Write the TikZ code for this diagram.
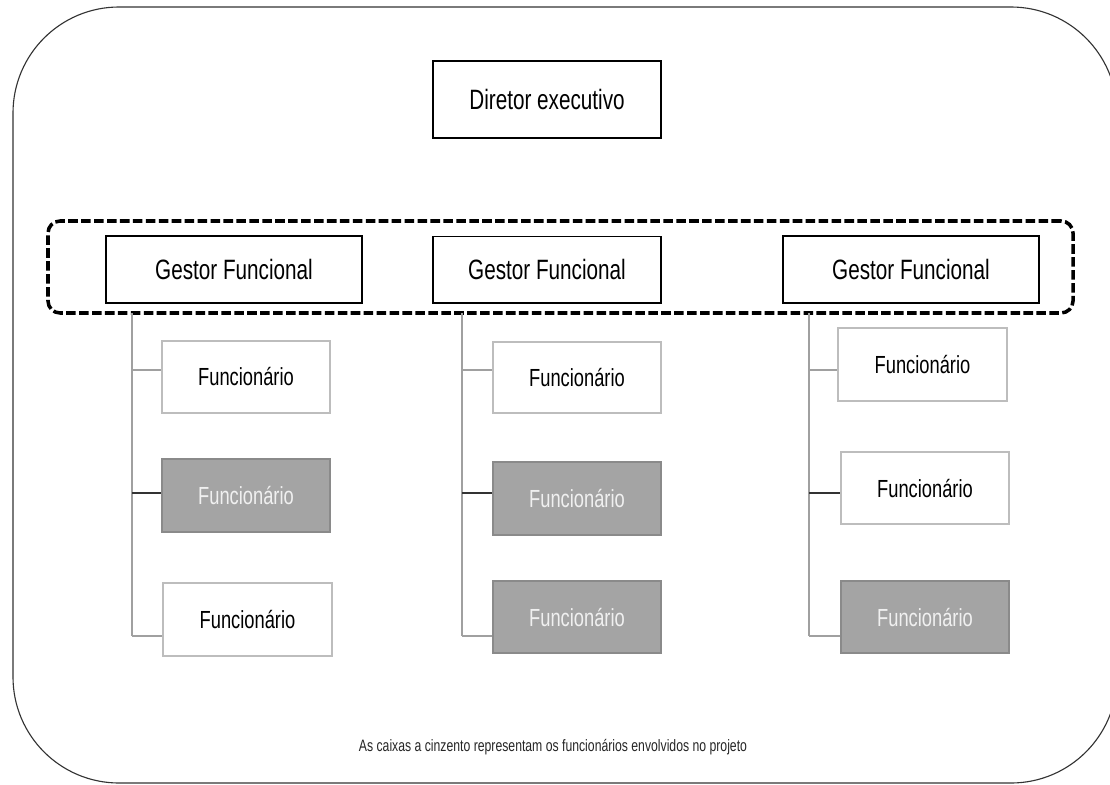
\documentclass[tikz,border=0pt]{standalone}
\usepackage{fontspec}
\usepackage{tikz}
\newfontfamily\narrowsans[FakeStretch=0.74]{Liberation Sans}

\definecolor{boxgrey}{HTML}{A4A4A4}
\definecolor{boxedge}{HTML}{8A8A8A}
\definecolor{lightedge}{HTML}{BDBDBD}
\definecolor{trunkgrey}{HTML}{A0A0A0}
\definecolor{framegrey}{HTML}{333333}

\begin{document}
\begin{tikzpicture}[x=0.025cm,y=-0.025cm,
  chief/.style={draw=black,line width=0.9pt,fill=white,minimum width=228*0.025cm,
    font=\narrowsans\fontsize{19.9}{22}\selectfont},
  func/.style={draw=lightedge,line width=1pt,fill=white,minimum width=168*0.025cm,minimum height=72*0.025cm,
    font=\narrowsans\fontsize{17.6}{20}\selectfont},
  funcgrey/.style={func,draw=boxedge,fill=boxgrey,text=white!94!black},
  trunk/.style={draw=trunkgrey,line width=1pt},
  branch/.style={draw=trunkgrey,line width=0.8pt},
  branchdark/.style={draw=black!80,line width=0.8pt}]

%Define column parameters
\def\tl{132}      %x of left trunk.
\def\tm{462}      %x of middle trunk.
\def\tr{809}      %x of right trunk.
\def\ttop{313}    %top of the trunks.
\def\tbot{636}    %bottom of the trunks.

\useasboundingbox (0,0) rectangle (1110,784);

% Outer frame
\draw[framegrey,line width=0.8pt,rounded corners=2.65cm] (13,7) rectangle (1117,783);

% Director
\node[chief,minimum height=77*0.025cm] (dir) at (547,99.5) {Diretor executivo};

% Group of managers (dashed)
\node[draw=black,line width=2.5pt,dash pattern=on 6.8pt off 2.4pt,rounded corners=0.3cm,
  minimum width=1025*0.025cm,minimum height=92*0.025cm] (grupo) at (560.5,267) {};

% Managers
\node[chief,minimum width=256*0.025cm,minimum height=67*0.025cm] (g1) at (234,269.5) {Gestor Funcional};
\node[chief,minimum height=66.5*0.025cm] (g2) at (547,269.75) {Gestor Funcional};
\node[chief,minimum width=256*0.025cm,minimum height=67*0.025cm] (g3) at (911,269.5) {Gestor Funcional};

% Employees, left column
\node[func] (f1a) at (246,377) {Funcionário};
\node[funcgrey,minimum height=73*0.025cm] (f1b) at (246,495.5) {Funcionário};
\node[func,minimum width=169*0.025cm,minimum height=73*0.025cm] (f1c) at (247.5,619.5) {Funcionário};

% Employees, middle column
\node[func,minimum height=71*0.025cm] (f2a) at (577,377.5) {Funcionário};
\node[funcgrey,minimum height=73*0.025cm] (f2b) at (577,498.5) {Funcionário};
\node[funcgrey] (f2c) at (577,617) {Funcionário};

% Employees, right column
\node[func,minimum width=169*0.025cm,minimum height=73*0.025cm] (f3a) at (922.5,364.5) {Funcionário};
\node[func] (f3b) at (925,488) {Funcionário};
\node[funcgrey] (f3c) at (925,617) {Funcionário};

% Trunk coordinates
\coordinate (t1) at (\tl,\ttop);  \coordinate (b1) at (\tl,\tbot);
\coordinate (t2) at (\tm,\ttop);  \coordinate (b2) at (\tm,\tbot);
\coordinate (t3) at (\tr,\ttop);  \coordinate (b3) at (\tr,\tbot);
\coordinate (k1) at (\tl,370);    \coordinate (m1) at (\tl,493);
\coordinate (k2) at (\tm,370);    \coordinate (m2) at (\tm,493);
\coordinate (k3) at (\tr,370);    \coordinate (m3) at (\tr,493);

% Trunks and branches
\draw[trunk] (t1) -- (b1);
\draw[trunk] (t2) -- (b2);
\draw[trunk] (t3) -- (b3);
\draw[branch] (k1) -- (k1 -| f1a.west);
\draw[branchdark] (m1) -- (m1 -| f1b.west);
\draw[branch] (b1) -- (b1 -| f1c.west);
\draw[branch] (k2) -- (k2 -| f2a.west);
\draw[branchdark] (m2) -- (m2 -| f2b.west);
\draw[branch] (b2) -- (b2 -| f2c.west);
\draw[branch] (k3) -- (k3 -| f3a.west);
\draw[branchdark] (m3) -- (m3 -| f3b.west);
\draw[branch] (b3) -- (b3 -| f3c.west);

% Note
\node[font=\narrowsans\fontsize{11.75}{14}\selectfont,text=black!85] (nota) at (553,747)
  {As caixas a cinzento representam os funcionários envolvidos no projeto};

\end{tikzpicture}
\end{document}
